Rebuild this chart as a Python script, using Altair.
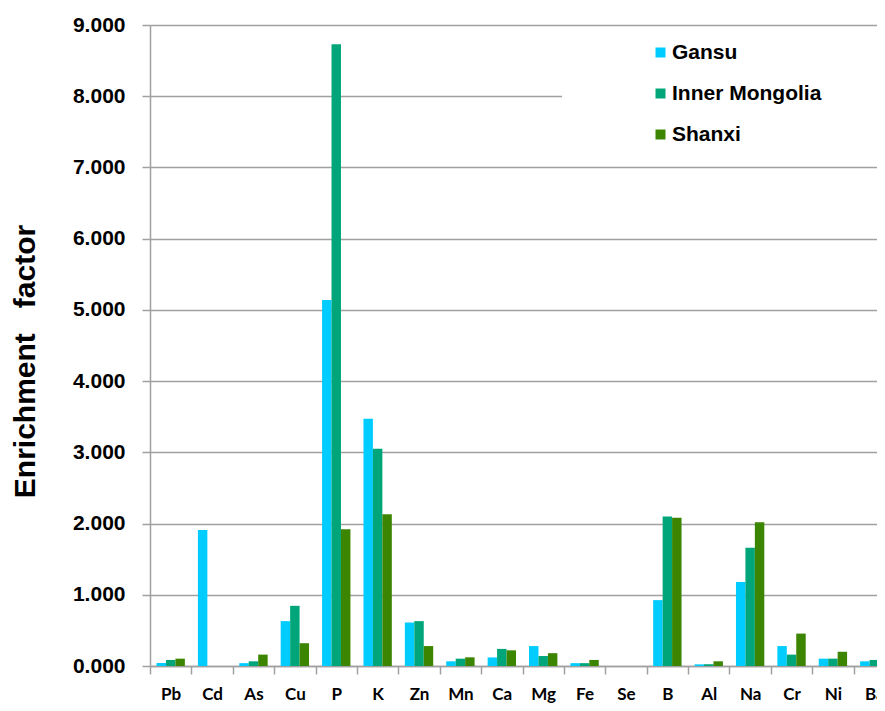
import altair as alt
import pandas as pd

elements = ["Pb", "Cd", "As", "Cu", "P", "K", "Zn", "Mn", "Ca", "Mg",
            "Fe", "Se", "B", "Al", "Na", "Cr", "Ni", "Ba"]
gansu = [0.042, 1.91, 0.040, 0.63, 5.14, 3.47, 0.61, 0.066, 0.12, 0.28,
         0.040, 0.0, 0.925, 0.023, 1.18, 0.28, 0.103, 0.066]
inner_mongolia = [0.085, 0.0, 0.066, 0.845, 8.73, 3.05, 0.63, 0.103, 0.24, 0.14,
                  0.040, 0.0, 2.10, 0.025, 1.66, 0.16, 0.103, 0.085]
shanxi = [0.103, 0.0, 0.16, 0.32, 1.92, 2.13, 0.28, 0.122, 0.22, 0.18,
          0.085, 0.0, 2.08, 0.066, 2.02, 0.455, 0.20, 0.16]
regions = ["Gansu", "Inner Mongolia", "Shanxi"]
colors = ["#00CCFF", "#00A67A", "#3C8500"]
y_ticks = [0, 1, 2, 3, 4, 5, 6, 7, 8, 9]

rows = []
for reg, vals in zip(regions, [gansu, inner_mongolia, shanxi]):
    for el, v in zip(elements, vals):
        rows.append({"element": el, "region": reg, "value": v})
df = pd.DataFrame(rows)

GRAY = "#A0A0A0"

bars = alt.Chart(df).mark_bar().encode(
    x=alt.X(
        "element:N", sort=elements,
        scale=alt.Scale(domain=elements, range=[0, 745], paddingInner=0, paddingOuter=0),
        axis=alt.Axis(title=None, labelFont="Lato", labelFontWeight="bold",
                      labelFontSize=17, labelColor="black", labelAngle=0,
                      labelPadding=12, tickBand="extent", tickSize=8,
                      tickColor=GRAY, tickWidth=1.5, domainColor=GRAY,
                      domainWidth=1.5, grid=False),
    ),
    xOffset=alt.XOffset("region:N", sort=regions,
                        scale=alt.Scale(domain=regions, paddingOuter=0.69, paddingInner=0)),
    y=alt.Y(
        "value:Q",
        scale=alt.Scale(domain=[0, 9], nice=False),
        axis=alt.Axis(values=y_ticks, format=".3f",
                      title="Enrichment\u00a0\u00a0\u00a0factor",
                      titleFont="Liberation Sans", titleFontWeight="bold",
                      titleFontSize=30, titleColor="black",
                      titleX=-125, titleY=336, titleAngle=270,
                      titleAlign="center", titleBaseline="middle",
                      labelFont="Liberation Sans", labelFontWeight="bold",
                      labelFontSize=21, labelColor="black", labelPadding=17,
                      tickSize=8, tickColor=GRAY, tickWidth=1.5,
                      domainColor=GRAY, domainWidth=1.5,
                      grid=True, gridColor=GRAY, gridWidth=1.5),
    ),
    color=alt.Color(
        "region:N", sort=regions,
        scale=alt.Scale(domain=regions, range=colors),
        legend=alt.Legend(title=None, orient="none", legendX=500, legendY=17,
                          symbolType="square", symbolSize=100,
                          symbolStrokeWidth=0, labelFont="Liberation Sans",
                          labelFontWeight="bold", labelFontSize=21,
                          labelColor="black", labelOffset=1, rowPadding=19,
                          padding=0),
    ),
)

mask = alt.Chart(alt.Data(values=[{}])).mark_rect(color="white").encode(
    x=alt.value(412), x2=alt.value(760), y=alt.value(3), y2=alt.value(139)
)

chart = alt.layer(mask, bars).properties(
    width=727, height=641,
    autosize=alt.AutoSizeParams(type="none"),
    padding={"left": 142, "top": 17, "right": 0, "bottom": 37},
    background="white",
).configure_view(stroke=None)

chart.save("out.html", embed_options={"renderer": "svg", "actions": False})
